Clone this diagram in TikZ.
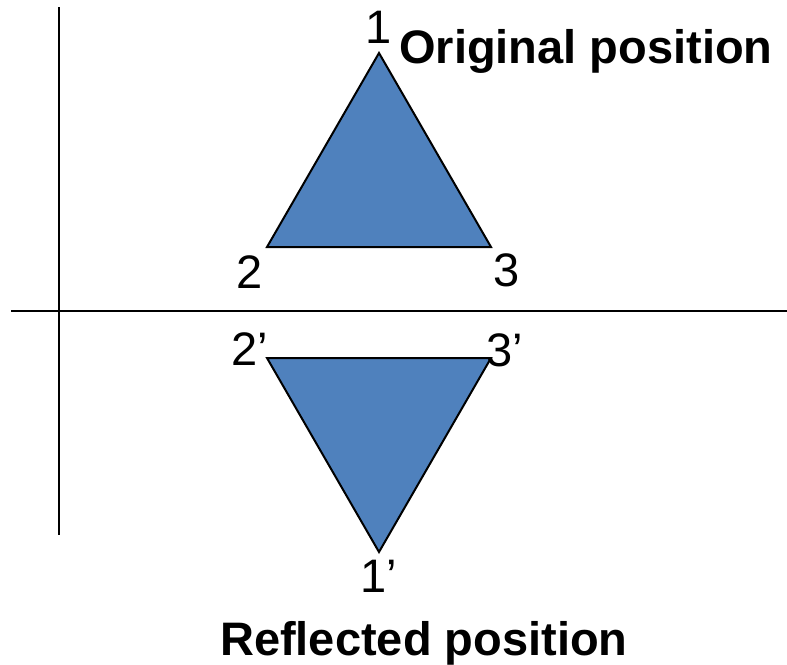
\documentclass[tikz,border=0pt]{standalone}
\usepackage{fontspec}
\setmainfont{Liberation Sans}
\definecolor{triblue}{HTML}{4F81BD}
\begin{document}
\begin{tikzpicture}[x=1pt,y=-1pt,
  axis/.style={line width=2.2pt,black},
  tri/.style={fill=triblue,draw=black,line width=2pt,line join=miter},
  lbl/.style={inner sep=0pt,font=\fontsize{47}{56}\selectfont},
  title/.style={inner sep=0pt,font=\fontsize{47}{56}\selectfont\bfseries}]
\useasboundingbox (0,0) rectangle (787,664);
% axes
\coordinate (vt) at (59,7);
\coordinate (vb) at (59,535);
\coordinate (hl) at (11,311);
\coordinate (hr) at (787,311);
\draw[axis] (vt) -- (vb);
\draw[axis] (hl) -- (hr);
% original triangle
\coordinate (p1) at (379,53);
\coordinate (p2) at (267,247);
\coordinate (p3) at (491,247);
\draw[tri] (p1) -- (p2) -- (p3) -- cycle;
% reflected triangle
\coordinate (q2) at (267,358);
\coordinate (q3) at (491,358);
\coordinate (q1) at (379,552);
\draw[tri] (q2) -- (q3) -- (q1) -- cycle;
% labels
\node[lbl,anchor=base] (l1) at (379,43) {1};
\node[lbl,anchor=base] (l2) at (250,288) {2};
\node[lbl,anchor=base] (l3) at (507,286) {3};
\node[lbl,anchor=base west] (l2p) at (231,365) {2’};
\node[lbl,anchor=base west] (l3p) at (486,366) {3’};
\node[lbl,anchor=base west] (l1p) at (360,592) {1’};
\node[title,anchor=base west] (orig) at (399,63) {Original position};
\node[title,anchor=base west] (refl) at (220,655) {Reflected position};
\end{tikzpicture}
\end{document}
